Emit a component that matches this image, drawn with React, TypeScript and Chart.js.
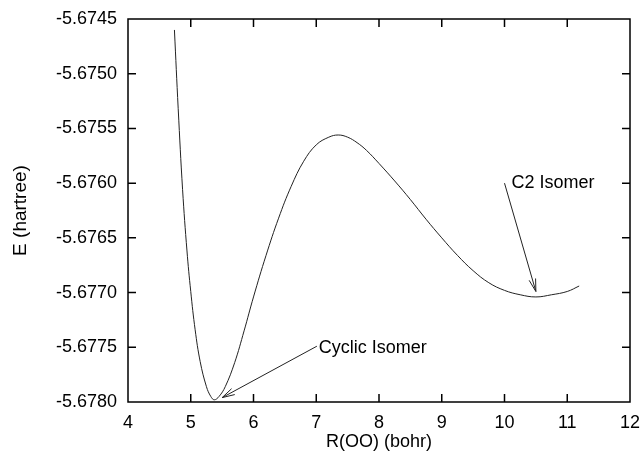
import React, { useEffect, useRef } from "react";
import { Chart, registerables } from "chart.js";

Chart.register(...registerables);

// R(OO) in bohr
const rOO = [
  4.74, 4.8, 4.87, 4.94, 5.0, 5.07, 5.15, 5.25, 5.32, 5.375, 5.45, 5.55, 5.7,
  5.85, 6.0, 6.2, 6.4, 6.6, 6.8, 7.0, 7.2, 7.35, 7.5, 7.65, 7.8, 8.0, 8.25,
  8.5, 8.75, 9.0, 9.25, 9.5, 9.75, 10.0, 10.25, 10.5, 10.75, 11.0, 11.19,
];
// E in hartree
const energy = [
  -5.6746, -5.67532, -5.67606, -5.67662, -5.67699, -5.67734, -5.67763,
  -5.67786, -5.67795, -5.67798, -5.67795, -5.67786, -5.67764, -5.67735,
  -5.67704, -5.67666, -5.67632, -5.67603, -5.6758, -5.67565, -5.67558,
  -5.67556, -5.67558, -5.67563, -5.6757, -5.67582, -5.67598, -5.67615,
  -5.67633, -5.6765, -5.67666, -5.6768, -5.67691, -5.67698, -5.67702,
  -5.67704, -5.67702, -5.67699, -5.67694,
];

const xMin = 4;
const xMax = 12;
const xStep = 1;
const yMin = -5.678;
const yMax = -5.6745;
const yStep = 0.0005;

const xTitle = "R(OO) (bohr)";
const yTitle = "E (hartree)";

// annotations: label, label anchor (x, y), arrow tail (x, y), arrow tip (x, y)
const noteLabels = ["Cyclic Isomer", "C2 Isomer"];
const noteTextX = [7.04, 10.11];
const noteTextY = [-5.67751, -5.676];
const noteTailX = [7.01, 10.0];
const noteTailY = [-5.67749, -5.676];
const noteTipX = [5.5, 10.5];
const noteTipY = [-5.67796, -5.67699];

const FONT = "'Liberation Sans', Arial, sans-serif";

const framePlugin = {
  id: "frameAndNotes",
  afterDraw(chart: any) {
    const { ctx, chartArea } = chart;
    const xs = chart.scales.x;
    const ys = chart.scales.y;
    const { left, right, top, bottom } = chartArea;
    ctx.save();
    ctx.strokeStyle = "#000";
    ctx.lineWidth = 1.5;
    ctx.strokeRect(left, top, right - left, bottom - top);
    const tl = 8;
    ctx.beginPath();
    xs.ticks.forEach((t: any) => {
      const px = xs.getPixelForValue(t.value);
      if (Math.abs(px - left) < 1 || Math.abs(px - right) < 1) return;
      ctx.moveTo(px, bottom);
      ctx.lineTo(px, bottom - tl);
      ctx.moveTo(px, top);
      ctx.lineTo(px, top + tl);
    });
    ys.ticks.forEach((t: any) => {
      const py = ys.getPixelForValue(t.value);
      if (Math.abs(py - top) < 1 || Math.abs(py - bottom) < 1) return;
      ctx.moveTo(left, py);
      ctx.lineTo(left + tl, py);
      ctx.moveTo(right, py);
      ctx.lineTo(right - tl, py);
    });
    ctx.stroke();

    // annotations
    ctx.font = `18px ${FONT}`;
    ctx.fillStyle = "#000";
    ctx.textBaseline = "middle";
    ctx.textAlign = "left";
    ctx.lineWidth = 1;
    ctx.strokeStyle = "#222";
    noteLabels.forEach((lab, i) => {
      const tx = xs.getPixelForValue(noteTextX[i]);
      const ty = ys.getPixelForValue(noteTextY[i]);
      ctx.fillText(lab, tx, ty);
      const ax = xs.getPixelForValue(noteTailX[i]);
      const ay = ys.getPixelForValue(noteTailY[i]);
      const bx = xs.getPixelForValue(noteTipX[i]);
      const by = ys.getPixelForValue(noteTipY[i]);
      const ang = Math.atan2(by - ay, bx - ax);
      const hl = 13;
      const spread = 0.26;
      ctx.beginPath();
      ctx.moveTo(ax, ay);
      ctx.lineTo(bx, by);
      ctx.moveTo(bx - hl * Math.cos(ang - spread), by - hl * Math.sin(ang - spread));
      ctx.lineTo(bx, by);
      ctx.lineTo(bx - hl * Math.cos(ang + spread), by - hl * Math.sin(ang + spread));
      ctx.stroke();
    });
    ctx.restore();
  },
};

export default function App() {
  const ref = useRef<HTMLCanvasElement | null>(null);
  useEffect(() => {
    if (!ref.current) return;
    const chart = new Chart(ref.current, {
      type: "line",
      data: {
        datasets: [
          {
            data: rOO.map((x, i) => ({ x, y: energy[i] })),
            borderColor: "#222",
            borderWidth: 1,
            pointRadius: 0,
            fill: false,
            tension: 0.4,
          },
        ],
      },
      options: {
        animation: false,
        responsive: false,
        layout: { padding: { top: 19, right: 12, left: 0, bottom: 0 } },
        plugins: { legend: { display: false }, tooltip: { enabled: false } },
        scales: {
          x: {
            type: "linear",
            min: xMin,
            max: xMax,
            grid: { display: false, drawTicks: false },
            border: { display: false },
            ticks: {
              stepSize: xStep,
              color: "#000",
              padding: 10,
              font: { family: FONT, size: 18 },
              maxRotation: 0,
            },
            title: {
              display: true,
              text: xTitle,
              color: "#000",
              font: { family: FONT, size: 18 },
              padding: { top: 0, bottom: 4 },
            },
            afterFit: (s: any) => {
              s.height = 55;
              s.paddingLeft = 0;
              s.paddingRight = 0;
            },
          },
          y: {
            type: "linear",
            min: yMin,
            max: yMax,
            grid: { display: false, drawTicks: false },
            border: { display: false },
            ticks: {
              stepSize: yStep,
              color: "#000",
              padding: 11,
              font: { family: FONT, size: 18 },
              callback: (v: any) => Number(v).toFixed(4),
            },
            title: {
              display: true,
              text: yTitle,
              color: "#000",
              font: { family: FONT, size: 19 },
              padding: { top: 9, bottom: 8 },
            },
            afterFit: (s: any) => {
              s.width = 128;
              s.paddingTop = 0;
              s.paddingBottom = 0;
            },
          },
        },
      },
      plugins: [framePlugin],
    });
    return () => chart.destroy();
  }, []);
  return (
    <div style={{ position: "absolute", left: 0, top: 0, width: 642, height: 457, background: "#fff" }}>
      <canvas ref={ref} width={642} height={457} style={{ display: "block" }} />
    </div>
  );
}
